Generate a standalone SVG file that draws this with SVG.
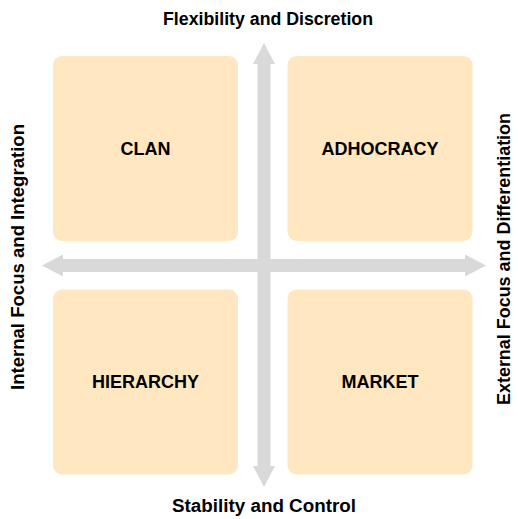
<svg xmlns="http://www.w3.org/2000/svg" width="518" height="519" viewBox="0 0 518 519">
<style>
.box{fill:#FFE8C1;}
.arr{fill:#D9D9D9;}
text{font-family:"Liberation Sans",Arial,sans-serif;font-weight:bold;fill:#000;}
.lbl{font-size:18px;text-anchor:middle;dominant-baseline:central;}
.axis{font-size:18px;text-anchor:middle;}
</style>
<rect width="518" height="519" fill="#FFFFFF"/>
<g id="connectors">
<polygon class="arr" points="264,43 275,64 270.5,64 270.5,466 275,466 264,487 253,466 257.5,466 257.5,64 253,64"/>
<polygon class="arr" points="42,265.5 63,254.5 63,259 465,259 465,254.5 486,265.5 465,276.5 465,272 63,272 63,276.5"/>
</g>
<g id="clan"><rect class="box" x="53" y="56" width="185" height="185" rx="9"/><text class="lbl" x="145.5" y="148.5">CLAN</text></g>
<g id="adhocracy"><rect class="box" x="287.5" y="56" width="185" height="185" rx="9"/><text class="lbl" x="380" y="148.5">ADHOCRACY</text></g>
<g id="hierarchy"><rect class="box" x="53" y="289.5" width="185" height="185" rx="9"/><text class="lbl" x="145.5" y="382">HIERARCHY</text></g>
<g id="market"><rect class="box" x="287.5" y="289.5" width="185" height="185" rx="9"/><text class="lbl" x="380" y="382">MARKET</text></g>
<g id="axis-labels">
<text class="axis" x="268" y="25" textLength="210" lengthAdjust="spacingAndGlyphs">Flexibility and Discretion</text>
<text class="axis" x="264" y="512" textLength="184" lengthAdjust="spacingAndGlyphs">Stability and Control</text>
<text class="axis" transform="translate(23.5,257) rotate(-90)" textLength="266" lengthAdjust="spacingAndGlyphs">Internal Focus and Integration</text>
<text class="axis" transform="translate(509.5,259) rotate(-90)" textLength="292" lengthAdjust="spacingAndGlyphs">External Focus and Differentiation</text>
</g>
</svg>
